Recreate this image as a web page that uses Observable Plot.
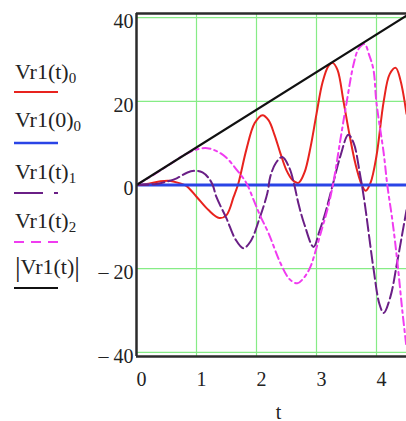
<!DOCTYPE html>
<html><head><meta charset="utf-8">
<script src="https://cdn.jsdelivr.net/npm/d3@7"></script>
<script src="https://cdn.jsdelivr.net/npm/@observablehq/plot@0.6"></script>
<style>
body{margin:0;background:#fff;}
#wrap{position:relative;width:406px;height:421px;overflow:hidden;font-family:"Liberation Serif","DejaVu Serif",serif;color:#222;}
#legend{position:absolute;left:0;top:0;width:110px;height:300px;}
</style></head>
<body><div id="wrap"><div id="chart"></div><svg id="legend" width="110" height="300"></svg></div>
<script>
// Vr1(t)_0 (red)
const tRed = [0,0.2,0.4,0.55,0.7,0.83,1.0,1.2,1.38,1.5,1.62,1.7,1.83,1.97,2.1,2.2,2.3,2.4,2.5,2.6,2.7,2.8,2.9,3.0,3.1,3.2,3.27,3.35,3.45,3.55,3.65,3.75,3.82,3.9,4.0,4.12,4.22,4.32,4.4,4.5];
const vRed = [0,0.3,0.9,1.0,0.5,-0.2,-2.8,-6,-7.9,-7.2,-2.8,0.5,8.4,14.8,16.7,15.5,12,7.5,3.5,1.2,0.5,3,9,17,24.5,28.5,29.2,27.5,20,12,5,0.2,-1.4,0.5,7,20,26.5,28,25,17];
// Vr1(0)_0 (blue)
const tBlue = [0,4.5];
const vBlue = [0,0];
// Vr1(t)_1 (purple)
const tPurple = [0,0.3,0.5,0.67,0.85,1.0,1.1,1.2,1.27,1.33,1.5,1.65,1.78,1.9,2.05,2.18,2.23,2.32,2.43,2.55,2.63,2.7,2.8,2.95,3.05,3.15,3.27,3.4,3.53,3.62,3.72,3.8,3.95,4.05,4.12,4.23,4.35,4.45,4.5];
const vPurple = [0,0.2,0.8,1.6,3,3.4,3,1.7,0,-2.8,-8,-13,-15.1,-13.5,-8,-2,2,5.2,6.7,4,0,-4.5,-9.5,-14.8,-11,-6.5,0,7,12,10,3,-4,-20,-28.5,-30.6,-26.8,-18,-10,-6];
// Vr1(t)_2 (magenta)
const tMagenta = [0,0.3,0.55,0.8,1.0,1.18,1.35,1.5,1.65,1.83,1.95,2.07,2.2,2.4,2.55,2.68,2.8,2.9,3.0,3.1,3.18,3.28,3.4,3.5,3.62,3.7,3.8,3.88,3.95,4.0,4.12,4.18,4.27,4.35,4.43,4.5];
const vMagenta = [0,2.6,4.9,7.2,8.5,8.8,8,6.5,4,0.5,-3.5,-7.6,-11.5,-18.7,-22.5,-23.5,-22,-19.5,-15,-10,-6,0.5,11,19.6,29,32.5,33.7,31,27.5,19.6,7.6,0,-9,-18.7,-30,-38.8];
// |Vr1(t)| (black)
const tAbs = [0,4.5];
const vAbs = [0,40.5];

const xTicks = [0,1,2,3,4];
const yTicks = [-40,-20,0,20,40];
const seriesNames = ["Vr1(t)", "Vr1(0)", "Vr1(t)", "Vr1(t)", "Vr1(t)"];
const seriesSubs = ["0","0","1","2",""];
const seriesColors = ["#e8231e","#2a44e6","#6a1f86","#f03cf0","#111111"];
const seriesDash = [null,null,"12,4","8,4,3,4",null];
const seriesWidth = [2,3,2,2,2.2];

const toRows = (ts, vs) => ts.map((t,i)=>({t, v: vs[i]}));
const red = toRows(tRed, vRed), blue = toRows(tBlue, vBlue), purple = toRows(tPurple, vPurple),
      magenta = toRows(tMagenta, vMagenta), absv = toRows(tAbs, vAbs);

const fmtY = d => d < 0 ? "\u2013 " + Math.abs(d) : String(d);
const font = '"Liberation Serif","DejaVu Serif",serif';
const green = "#86ec86", frameColor = "#2b2b2b";

const chart = Plot.plot({
  width: 406, height: 421,
  marginLeft: 136, marginRight: 0, marginTop: 13, marginBottom: 65,
  style: {fontFamily: font, fontSize: "20px", color: "#222", background: "#fff"},
  x: {domain: [0, 4.5]},
  y: {domain: [-41, 41]},
  marks: [
    Plot.ruleX(xTicks.slice(1), {stroke: green, strokeWidth: 1.2}),
    Plot.ruleY(yTicks, {stroke: green, strokeWidth: 1.2}),
    Plot.axisX(xTicks, {tickSize: 0, tickPadding: 15, dx: 5, fontSize: 20, label: null}),
    Plot.axisY(yTicks, {tickSize: 0, tickPadding: 3, dy: 4, fontSize: 20, tickFormat: fmtY, label: null}),
    Plot.line(red, {x: "t", y: "v", stroke: seriesColors[0], strokeWidth: seriesWidth[0], curve: "catmull-rom", clip: true}),
    Plot.line(blue, {x: "t", y: "v", stroke: seriesColors[1], strokeWidth: seriesWidth[1], clip: true}),
    Plot.line(purple, {x: "t", y: "v", stroke: seriesColors[2], strokeWidth: seriesWidth[2], strokeDasharray: seriesDash[2], curve: "catmull-rom", clip: true}),
    Plot.line(magenta, {x: "t", y: "v", stroke: seriesColors[3], strokeWidth: seriesWidth[3], strokeDasharray: seriesDash[3], curve: "catmull-rom", clip: true}),
    Plot.line(absv, {x: "t", y: "v", stroke: seriesColors[4], strokeWidth: seriesWidth[4], clip: true}),
    Plot.ruleX([0], {stroke: frameColor, strokeWidth: 2.5}),
    Plot.ruleY([-41, 41], {stroke: frameColor, strokeWidth: 2.5}),
    Plot.text(["t"], {frameAnchor: "bottom", dy: 62, dx: 7, fontSize: 20, fill: "#222"})
  ]
});
document.getElementById("chart").appendChild(chart);

// legend
const lg = d3.select("#legend");
const baseY = [79, 127, 179, 228, 274];
const lineY = [92, 143, 193, 242, 288];
seriesNames.forEach((name, i) => {
  const isAbs = i === 4;
  const tx = lg.append("text").attr("x", 15).attr("y", baseY[i])
    .attr("font-family", font).attr("font-size", 22).attr("fill", "#222");
  if (isAbs) tx.append("tspan").attr("font-size", 28).attr("dy", 2).text("|");
  tx.append("tspan").attr("dy", isAbs ? -2 : null).text(name);
  if (isAbs) tx.append("tspan").attr("font-size", 28).attr("dy", 2).text("|");
  if (seriesSubs[i]) tx.append("tspan").attr("font-size", 15).attr("dy", 4).text(seriesSubs[i]);
  lg.append("line").attr("x1", 14).attr("x2", 58).attr("y1", lineY[i]).attr("y2", lineY[i])
    .attr("stroke", seriesColors[i]).attr("stroke-width", i === 1 ? 2.5 : 2)
    .attr("stroke-dasharray", i === 2 ? "29,11,5,11" : i === 3 ? "10,7" : null);
});
</script></body></html>
